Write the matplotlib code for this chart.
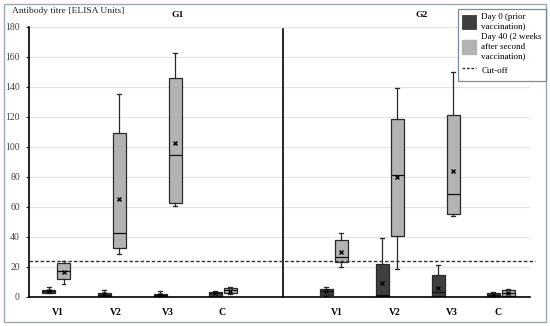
import numpy as np
import matplotlib
matplotlib.use("Agg")
import matplotlib.pyplot as plt
from matplotlib.patches import Patch, Rectangle
from matplotlib.lines import Line2D

plt.rcParams["font.family"] = ["Liberation Serif", "DejaVu Serif"]

categories = ["V1", "V2", "V3", "C", "V1", "V2", "V3", "C"]
groups = ["G1", "G2"]

# Day 0 (prior vaccination): whisker low, q1, median, q3, whisker high, mean
day0_lo = [3, 0, 0, 1, 0.5, 0, 0, 0]
day0_q1 = [3, 0, 0, 1, 1.6, 0, 0, 0]
day0_med = [4, 1.5, 1.5, 2.5, 4, 1.6, 3.1, 1.5]
day0_q3 = [5, 2.7, 2, 3.5, 5.6, 21.8, 14.7, 2.7]
day0_hi = [6.5, 5, 4, 4, 6.6, 39.6, 21.1, 3.1]
day0_mean = [4, 2, 1.5, 2.5, 4, 9.1, 6.2, 1.5]

# Day 40 (2 weeks after second vaccination)
day40_lo = [8.7, 29, 60.4, 2, 20, 18.4, 54.2, 1]
day40_q1 = [12, 32.7, 63, 2.6, 23.1, 40.7, 55.1, 1]
day40_med = [17.3, 42.4, 94.4, 4.5, 26.9, 81.6, 68.4, 3]
day40_q3 = [22.4, 109.3, 145.8, 5.9, 37.8, 118.7, 121.1, 4.4]
day40_hi = [24.2, 135.3, 162.9, 7, 42.4, 139.5, 150, 5.1]
day40_mean = [17, 65.3, 102.4, 4.3, 30, 80.2, 84, 3]

cutoff = 24

yticks = np.arange(0, 181, 20)


def stats(lo, q1, med, q3, hi, mean):
    return [dict(whislo=a, q1=b, med=c, q3=d, whishi=e, mean=f, fliers=[])
            for a, b, c, d, e, f in zip(lo, q1, med, q3, hi, mean)]


fig = plt.figure(figsize=(5.5, 3.26), dpi=100)
ax = fig.add_axes([29 / 550, 29 / 326, 501 / 550, 270 / 326])

centers = np.array([56, 112, 168, 223, 334, 390, 446, 501])
label_x = np.array([58, 116, 168, 222, 337, 395, 452, 498])
off = 7.5
w = 13

dark = "#3f3f3f"
light = "#b3b3b3"
edge = "#2a2a2a"

for vals, pos, col in [
    (stats(day0_lo, day0_q1, day0_med, day0_q3, day0_hi, day0_mean), centers - off, dark),
    (stats(day40_lo, day40_q1, day40_med, day40_q3, day40_hi, day40_mean), centers + off, light),
]:
    ax.bxp(vals, positions=pos, widths=w, patch_artist=True, showmeans=True,
           showfliers=False, manage_ticks=False,
           boxprops=dict(facecolor=col, edgecolor=edge, linewidth=0.9),
           medianprops=dict(color="#111111", linewidth=0.9),
           whiskerprops=dict(color=edge, linewidth=0.9),
           capprops=dict(color=edge, linewidth=0.9),
           capwidths=4,
           meanprops=dict(marker="x", markeredgecolor="black", markersize=3.5,
                          markeredgewidth=1))

ax.axhline(cutoff, color="#333333", linestyle=(0, (2.5, 1.5)), linewidth=1,
           xmax=1.01, clip_on=False, zorder=5)
ax.plot([283, 283], [0, 179], color="black", linewidth=1.2)

ax.set_xlim(29, 530)
ax.set_ylim(0, 180)
ax.set_yticks(yticks)
ax.yaxis.grid(True, color="#e4e4e4", linewidth=0.8)
ax.set_axisbelow(True)
ax.set_xticks(label_x)
ax.set_xticklabels(categories, fontweight="bold")
ax.tick_params(axis="x", length=0, labelsize=7, pad=8)
ax.tick_params(axis="y", length=2.5, width=0.8, labelsize=7, colors="#333333",
               labelcolor="#444444", pad=4)
for s in ["top", "right"]:
    ax.spines[s].set_visible(False)
ax.spines["left"].set_linewidth(1.2)
ax.spines["bottom"].set_linewidth(1.2)

fig.text(12 / 550, 1 - 11 / 326, "Antibody titre [ELISA Units]", fontsize=6.8,
         va="center", ha="left", color="#222222")
fig.text(178 / 550, 1 - 15 / 326, groups[0], fontsize=6.8, fontweight="bold",
         ha="center", va="center")
fig.text(422 / 550, 1 - 15 / 326, groups[1], fontsize=6.8, fontweight="bold",
         ha="center", va="center")

handles = [
    Patch(facecolor=dark, edgecolor=edge, linewidth=0.5),
    Patch(facecolor=light, edgecolor=light),
    Line2D([], [], color="#333333", linestyle=(0, (2, 1.2)), linewidth=1),
]
labels = ["Day 0 (prior\nvaccination)", "Day 40 (2 weeks\nafter second\nvaccination)",
          "Cut-off"]
leg = fig.legend(handles, labels, loc="upper right",
                 bbox_to_anchor=(546 / 550, 1 - 9 / 326), fontsize=6.5,
                 frameon=True, fancybox=False, handlelength=1.5, handleheight=2.0,
                 handletextpad=0.6, labelspacing=0.35, borderpad=0.45,
                 borderaxespad=0)
leg.get_frame().set_edgecolor("#5b6f86")
leg.get_frame().set_linewidth(0.9)

fig.patches.append(Rectangle((4 / 550, 4 / 326), 542 / 550, 318 / 326,
                             transform=fig.transFigure, fill=False,
                             edgecolor="#9aa8b8", linewidth=1))

fig.savefig("out.png", dpi=100)
